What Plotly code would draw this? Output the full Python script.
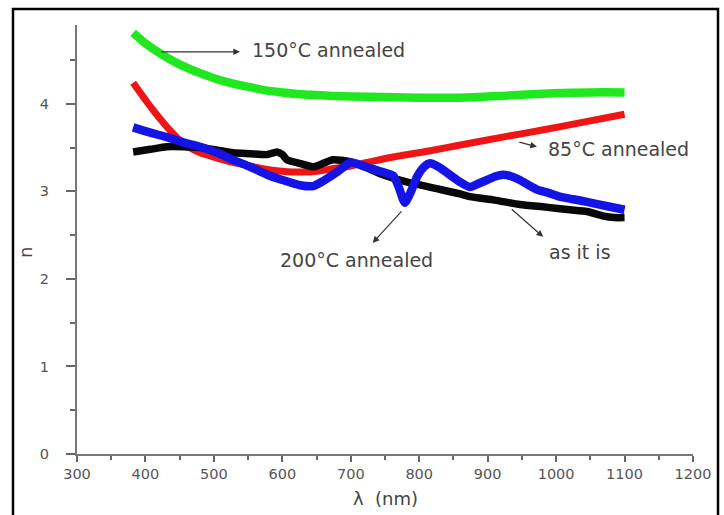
import plotly.graph_objects as go

# Refractive index n versus wavelength for films annealed at different temperatures
green_x = [382, 400, 431, 455, 480, 505, 528, 553, 578, 600, 626, 650, 674, 728, 800, 860, 920, 995, 1050, 1100]
green_y = [4.81, 4.69, 4.53, 4.43, 4.35, 4.28, 4.23, 4.19, 4.15, 4.13, 4.11, 4.10, 4.09, 4.08, 4.07, 4.07, 4.09, 4.12, 4.13, 4.13]

red_x = [382, 407, 431, 455, 480, 505, 528, 553, 578, 600, 626, 651, 675, 700, 724, 760, 820, 860, 922, 980, 1040, 1100]
red_y = [4.24, 3.97, 3.74, 3.55, 3.44, 3.38, 3.33, 3.29, 3.25, 3.23, 3.22, 3.23, 3.26, 3.29, 3.33, 3.39, 3.47, 3.53, 3.62, 3.70, 3.79, 3.88]

black_x = [382, 407, 431, 455, 480, 505, 528, 553, 578, 592, 600, 607, 625, 645, 660, 674, 699, 720, 747, 780,
           820, 860, 874, 910, 947, 985, 1020, 1045, 1068, 1085, 1100]
black_y = [3.45, 3.48, 3.51, 3.51, 3.50, 3.47, 3.44, 3.43, 3.42, 3.45, 3.42, 3.36, 3.32, 3.28, 3.32, 3.36, 3.34, 3.28, 3.19, 3.11,
           3.04, 2.97, 2.94, 2.90, 2.85, 2.82, 2.79, 2.77, 2.72, 2.70, 2.70]

blue_x = [382, 407, 431, 455, 480, 505, 528, 553, 578, 600, 626, 645, 660, 680, 699, 715, 730, 747, 762, 770, 779, 788,
          797, 807, 816, 828, 841, 857, 874, 887, 899, 911, 922, 935, 947, 960, 972, 990, 1005, 1025, 1045, 1075, 1100]
blue_y = [3.73, 3.67, 3.62, 3.56, 3.51, 3.44, 3.36, 3.28, 3.19, 3.13, 3.07, 3.06, 3.12, 3.22, 3.33, 3.30, 3.26, 3.22, 3.18, 3.05, 2.87, 3.00,
          3.17, 3.28, 3.32, 3.28, 3.21, 3.12, 3.05, 3.09, 3.13, 3.17, 3.19, 3.17, 3.13, 3.07, 3.02, 2.98, 2.94, 2.91, 2.88, 2.83, 2.79]

x_ticks = list(range(300, 1201, 100))
y_ticks = [0, 1, 2, 3, 4]

W, H = 724, 515
L, R, T, B = 77, 31, 25, 61
pw, ph = W - L - R, H - T - B

fig = go.Figure()
series = [
    (green_x, green_y, "#1fe81f", 8.5, "150°C annealed"),
    (red_x, red_y, "#f01515", 7, "85°C annealed"),
    (black_x, black_y, "#080808", 7.5, "as it is"),
    (blue_x, blue_y, "#1414e6", 8.5, "200°C annealed"),
]
for xs, ys, col, w, name in series:
    fig.add_trace(go.Scatter(x=xs, y=ys, mode="lines", name=name,
                             line=dict(color=col, width=w, shape="spline", smoothing=0.6)))

txt_font = dict(family="DejaVu Sans", size=19, color="#444444")
arrow_kw = dict(showarrow=True, arrowhead=2, arrowsize=1.1, arrowwidth=1.2, arrowcolor="#333333",
                axref="x", ayref="y", xref="x", yref="y", text="")

# arrows: tail (ax, ay) -> head (x, y)
fig.add_annotation(x=538, y=4.594, ax=421, ay=4.594, **arrow_kw)
fig.add_annotation(x=972, y=3.509, ax=944, ay=3.566, **arrow_kw)
fig.add_annotation(x=732, y=2.411, ax=776, ay=2.789, **arrow_kw)
fig.add_annotation(x=981, y=2.48, ax=933, ay=2.811, **arrow_kw)

labels = [
    (553, 4.617, "150°C annealed", "left"),
    (985, 3.486, "85°C annealed", "left"),
    (708, 2.217, "200°C annealed", "center"),
    (1035, 2.309, "as it is", "center"),
]
for lx, ly, t, anc in labels:
    fig.add_annotation(x=lx, y=ly, text=t, showarrow=False, xanchor=anc, yanchor="middle",
                       font=txt_font, xref="x", yref="y")

# axis titles
fig.add_annotation(x=(385 - L) / pw, y=(454 - 498) / ph, xref="paper", yref="paper",
                   xanchor="center", yanchor="middle",
                   text="λ  (nm)", showarrow=False, font=dict(family="DejaVu Sans", size=18, color="#444444"))
fig.add_annotation(x=(25 - L) / pw, y=(454 - 253) / ph, xref="paper", yref="paper",
                   xanchor="center", yanchor="middle",
                   text="n", textangle=-90, showarrow=False, font=dict(family="DejaVu Sans", size=18, color="#444444"))

# outer frame
fig.add_shape(type="rect", xref="paper", yref="paper",
              x0=(13 - L) / pw, x1=(718 - L) / pw, y0=-0.2, y1=(454 - 9) / ph,
              line=dict(color="black", width=2.5), fillcolor="rgba(0,0,0,0)")

axis_common = dict(showgrid=False, zeroline=False, showline=True, linecolor="#777777", linewidth=2,
                   ticks="outside", tickwidth=1.5, tickcolor="#666666",
                   tickfont=dict(family="DejaVu Sans", size=14.5, color="#555555"))

fig.update_xaxes(range=[300, 1200], tickvals=x_ticks, ticktext=[str(v) for v in x_ticks], ticklen=6,
                 minor=dict(ticks="outside", dtick=50, tick0=300, ticklen=4, tickcolor="#666666"),
                 **axis_common)
fig.update_yaxes(range=[0, 4.9], tickvals=y_ticks, ticktext=[str(v) for v in y_ticks], ticklen=9,
                 ticklabelstandoff=14,
                 minor=dict(ticks="outside", dtick=0.5, tick0=0, ticklen=5, tickcolor="#666666"),
                 **axis_common)

fig.update_layout(width=W, height=H, margin=dict(l=L, r=R, t=T, b=B, pad=0),
                  plot_bgcolor="white", paper_bgcolor="white", showlegend=False)

fig.write_html("out.html")
